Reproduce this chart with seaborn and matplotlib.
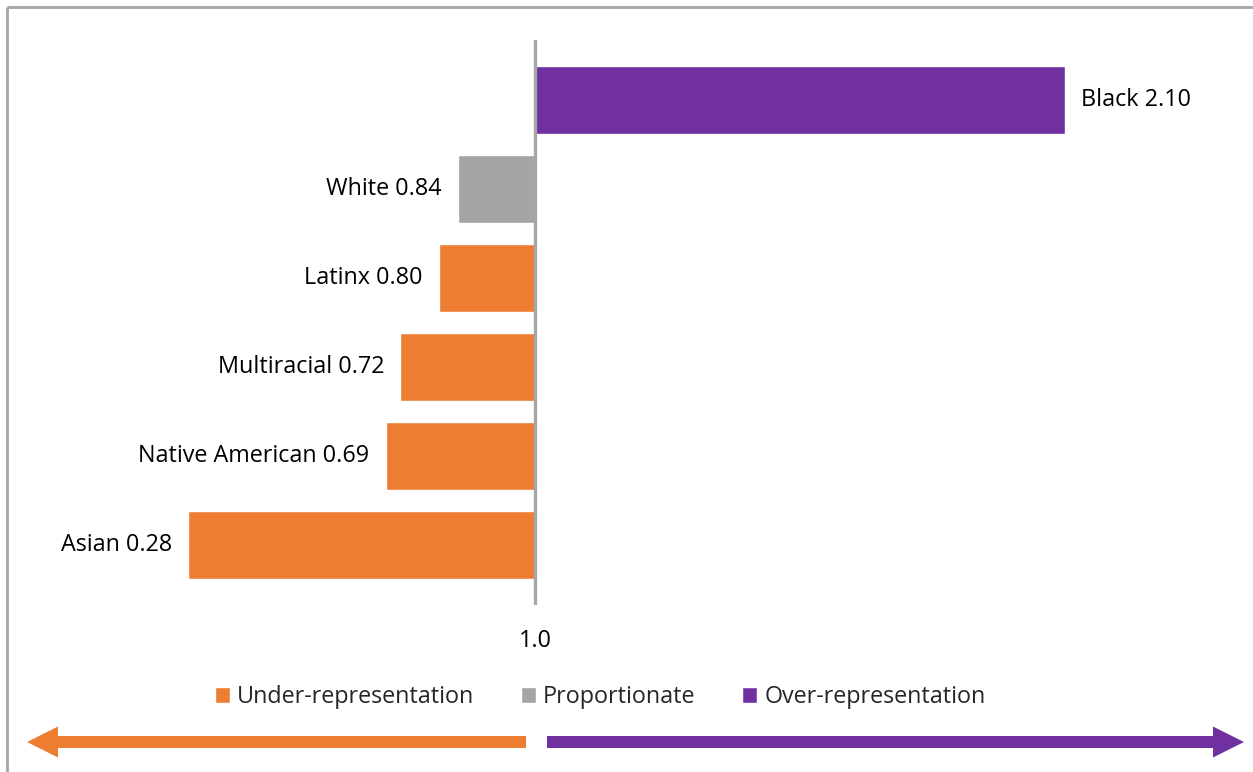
import matplotlib
matplotlib.use("Agg")
import matplotlib.pyplot as plt
import seaborn as sns
import pandas as pd
from matplotlib.patches import FancyArrow

# ---- data ----
groups = ["Black", "White", "Latinx", "Multiracial", "Native American", "Asian"]
values = [2.10, 0.84, 0.80, 0.72, 0.69, 0.28]
categories = ["Over-representation", "Proportionate", "Under-representation",
              "Under-representation", "Under-representation", "Under-representation"]
legend_order = ["Under-representation", "Proportionate", "Over-representation"]
colors = {"Under-representation": "#ED7D31",
          "Proportionate": "#A5A5A5",
          "Over-representation": "#7030A0"}
baseline = 1.0
baseline_label = "1.0"

df = pd.DataFrame({"group": groups, "value": values, "category": categories})
df["dev"] = df["value"] - baseline

sns.set_theme(style="white")
plt.rcParams["font.family"] = ["Open Sans", "DejaVu Sans"]
FS = 16.8

W, H = 1253, 772
fig = plt.figure(figsize=(W / 100, H / 100), dpi=100)
fig.patch.set_facecolor("white")

# background overlay in pixel coords
ax0 = fig.add_axes([0, 0, 1, 1])
ax0.set_xlim(0, W)
ax0.set_ylim(H, 0)
ax0.axis("off")
# frame
ax0.plot([7, 7], [7, H + 5], color="#A6A6A6", lw=2.0, solid_capstyle="butt")
ax0.plot([7, W + 5], [7, 7], color="#A6A6A6", lw=2.0, solid_capstyle="butt")
# arrows
ax0.add_patch(FancyArrow(526, 742, 27 - 526, 0, width=12, head_width=31, head_length=31,
                         length_includes_head=True, color="#ED7D31", lw=0))
ax0.add_patch(FancyArrow(547, 742, 1244 - 547, 0, width=12, head_width=31, head_length=31,
                         length_includes_head=True, color="#7030A0", lw=0))

# main axes
ax = fig.add_axes([0, 1 - 605 / H, 1, 565 / H])
ax.patch.set_alpha(0)
sns.barplot(data=df, x="dev", y="group", hue="category", hue_order=legend_order,
            palette=colors, dodge=False, width=68 / 89, orient="h", ax=ax,
            saturation=1, legend=True)
ppu = 482.0
ax.set_xlim(-535 / ppu, (W - 535) / ppu)
ax.set_ylim(5.674, -0.674)
for s in ax.spines.values():
    s.set_visible(False)
ax.set_yticks([])
ax.set_xticks([0])
ax.set_xticklabels([baseline_label])
ax.tick_params(axis="x", length=0, pad=17, labelsize=FS, colors="black")
ax.set_xlabel("")
ax.set_ylabel("")
ax.axvline(0, color="#A6A6A6", lw=2.4, zorder=5)

for i, (g, v, d) in enumerate(zip(groups, values, df["dev"])):
    off = 11.5 if d > 0 else -11.5
    ax.annotate(f"{g} {v:.2f}", xy=(d, i), xytext=(off, 0), textcoords="offset points",
                ha="left" if d > 0 else "right", va="center", fontsize=FS, color="black")

handles, labels = ax.get_legend_handles_labels()
ax.get_legend().remove()
fig.legend(handles, labels, loc="center", bbox_to_anchor=(600 / W, 1 - 697 / H),
           ncol=3, frameon=False, fontsize=FS, handlelength=0.65, handleheight=0.65,
           handletextpad=0.3, columnspacing=2.0)

fig.savefig("out.png", dpi=100)
